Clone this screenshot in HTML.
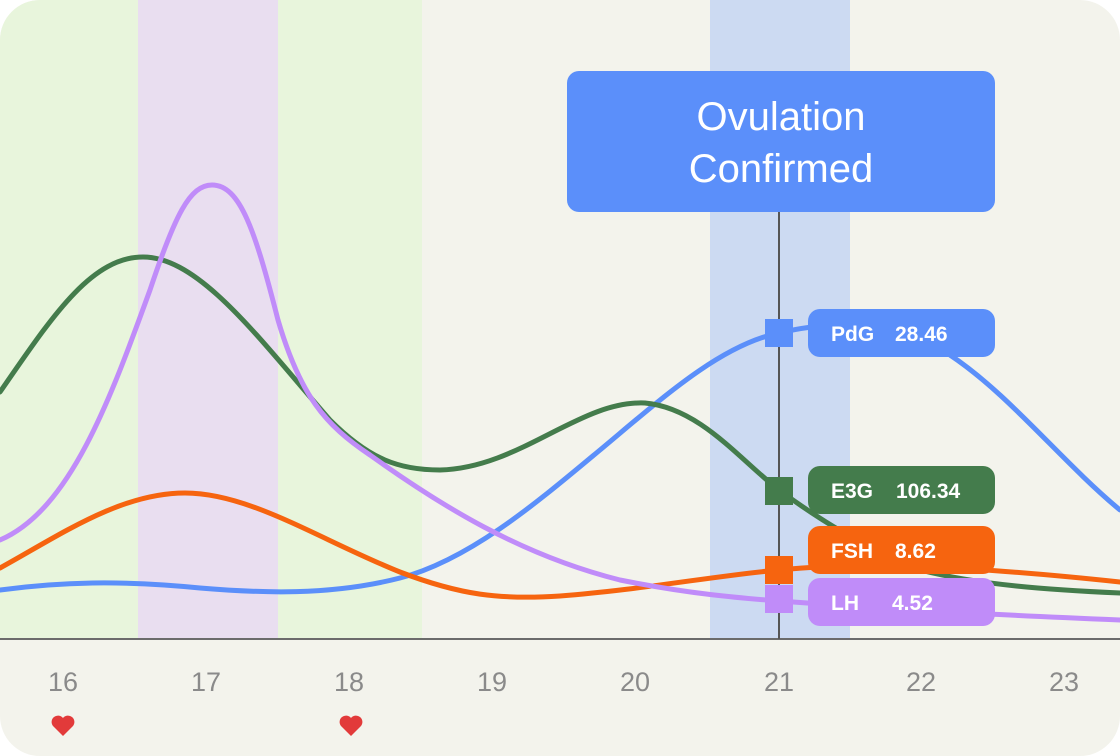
<!DOCTYPE html>
<html><head><meta charset="utf-8"><style>
html,body{margin:0;padding:0;background:#fff;}
svg{display:block;}
</style></head><body>
<svg width="1120" height="756" viewBox="0 0 1120 756" xmlns="http://www.w3.org/2000/svg" font-family="Liberation Sans, sans-serif">
<defs><clipPath id="c"><rect x="0" y="0" width="1120" height="756" rx="40"/></clipPath></defs>
<g clip-path="url(#c)">
<rect width="1120" height="756" fill="#f3f3ec"/>
<rect x="0" y="0" width="138" height="639" fill="#e8f5dc"/>
<rect x="138" y="0" width="140" height="639" fill="#e9def0"/>
<rect x="278" y="0" width="144" height="639" fill="#e8f5dc"/>
<rect x="710" y="0" width="140" height="639" fill="#ccdaf2"/>
<line x1="0" y1="639" x2="1120" y2="639" stroke="#6b6b6b" stroke-width="2"/>
<line x1="779" y1="200" x2="779" y2="639" stroke="#555" stroke-width="2"/>
<g fill="none" stroke-width="5" stroke-linecap="round">
<path stroke="#5b8ffa" d="M0,590 C60,582 120,580 200,588 C260,593 330,596 400,578 C470,560 540,500 600,450 C660,400 720,345 779,333 C840,318 900,325 950,355 C1010,395 1060,460 1120,510"/>
<path stroke="#f6640f" d="M0,568 C60,535 120,493 185,493 C250,493 320,540 400,572 C460,595 500,600 560,596 C640,590 720,575 779,570 C860,562 960,565 1120,582"/>
<path stroke="#447c4c" d="M0,392 C50,320 90,257 143,257 C200,257 260,340 330,420 C370,460 400,470 440,470 C520,468 580,400 645,403 C700,408 740,460 779,490 C820,520 860,545 920,570 C980,585 1050,590 1120,593"/>
<path stroke="#c08cf9" d="M0,540 C70,510 110,400 150,290 C175,215 190,185 212,185 C240,185 255,230 278,320 C300,395 325,425 370,455 C440,505 520,555 620,580 C690,594 740,598 779,601 C900,610 1000,615 1120,620"/>
</g>
<rect x="567" y="71" width="428" height="141" rx="12" fill="#5b8ffa"/>
<text x="781" y="130" text-anchor="middle" font-size="40" fill="#fff">Ovulation</text>
<text x="781" y="182" text-anchor="middle" font-size="40" fill="#fff">Confirmed</text>
<g font-size="21" font-weight="bold" fill="#fff">
<rect x="765" y="319" width="28" height="28" fill="#5b8ffa"/>
<rect x="808" y="309" width="187" height="48" rx="12" fill="#5b8ffa"/>
<text x="831" y="341">PdG</text><text x="895" y="341">28.46</text>
<rect x="765" y="477" width="28" height="28" fill="#447c4c"/>
<rect x="808" y="466" width="187" height="48" rx="12" fill="#447c4c"/>
<text x="831" y="498">E3G</text><text x="896" y="498">106.34</text>
<rect x="765" y="556" width="28" height="28" fill="#f6640f"/>
<rect x="808" y="526" width="187" height="48" rx="12" fill="#f6640f"/>
<text x="831" y="558">FSH</text><text x="895" y="558">8.62</text>
<rect x="765" y="585" width="28" height="28" fill="#c08cf9"/>
<rect x="808" y="578" width="187" height="48" rx="12" fill="#c08cf9"/>
<text x="831" y="610">LH</text><text x="892" y="610">4.52</text>
</g>
<g font-size="27" fill="#8a8a8a" text-anchor="middle">
<text x="63" y="691">16</text><text x="206" y="691">17</text><text x="349" y="691">18</text><text x="492" y="691">19</text><text x="635" y="691">20</text><text x="779" y="691">21</text><text x="921" y="691">22</text><text x="1064" y="691">23</text>
</g>
<g fill="#e23a3a">
<path d="M63,736 l-10,-10 a5.5,5.5 0 0 1 10,-8 a5.5,5.5 0 0 1 10,8 z"/>
<path d="M351,736 l-10,-10 a5.5,5.5 0 0 1 10,-8 a5.5,5.5 0 0 1 10,8 z"/>
</g>
</g>
</svg>
</body></html>
